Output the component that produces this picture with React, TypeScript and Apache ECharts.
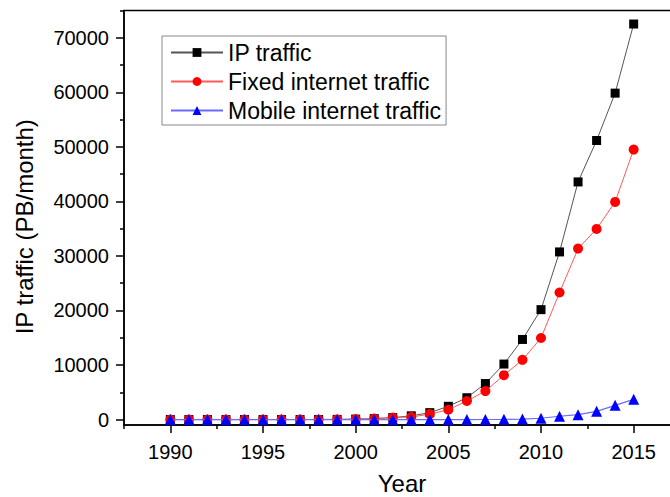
import React, { useEffect, useRef } from "react";
import * as echarts from "echarts";

const years = [1990, 1991, 1992, 1993, 1994, 1995, 1996, 1997, 1998, 1999, 2000, 2001, 2002, 2003, 2004, 2005, 2006, 2007, 2008, 2009, 2010, 2011, 2012, 2013, 2014, 2015];
const ipTraffic = [0.001, 0.002, 0.004, 0.01, 0.02, 0.17, 1.8, 5.4, 11.5, 26, 75, 175, 356, 681, 1267, 2426, 4000, 6600, 10174, 14686, 20151, 30734, 43570, 51168, 59848, 72521];
const fixedTraffic = [0.001, 0.002, 0.004, 0.01, 0.02, 0.17, 1.8, 5.4, 11.5, 26, 75, 175, 356, 470, 1000, 1800, 3400, 5219, 8140, 10942, 14955, 23288, 31339, 34952, 39909, 49494];
const mobileTraffic = [0, 0, 0, 0, 0, 0, 0, 0, 0, 0, 0, 0, 0.1, 0.5, 1, 1, 3, 10, 33, 91, 237, 600, 900, 1500, 2600, 3700];

const seriesNames = ["IP traffic", "Fixed internet traffic", "Mobile internet traffic"];
const xMajorTicks = [1990, 1995, 2000, 2005, 2010, 2015];
const xMinorTicks = [1987.5, 1992.5, 1997.5, 2002.5, 2007.5, 2012.5, 2017.5];
const yMajorTicks = [0, 10000, 20000, 30000, 40000, 50000, 60000, 70000];
const yMinorTicks = [5000, 15000, 25000, 35000, 45000, 55000, 65000, 75000];

const FONT = "'Liberation Sans', Arial, sans-serif";

export default function App() {
  const ref = useRef<HTMLDivElement>(null);
  useEffect(() => {
    if (!ref.current) return;
    const chart = echarts.init(ref.current, null, { renderer: "svg" });
    const pair = (arr: number[]) => years.map((y, i) => [y, arr[i]]);
    const plain = (v: number) => String(v);
    const xBase = { type: "value", min: 1987.5, max: 2017.5, position: "bottom", splitLine: { show: false } };
    const yBase = { type: "value", min: -1000, max: 75000, position: "left", splitLine: { show: false } };
    chart.setOption({
      animation: false,
      backgroundColor: "#fff",
      textStyle: { fontFamily: FONT },
      grid: {
        left: 124, top: 10.5, right: 0, bottom: 72,
        containLabel: false, outerBoundsMode: "none",
        show: true, borderColor: "#000", borderWidth: 1.5, backgroundColor: "transparent",
      },
      legend: {
        orient: "vertical",
        left: 162,
        top: 36,
        itemWidth: 52,
        itemHeight: 11,
        itemGap: 6,
        padding: [5, 5, 3, 8],
        borderColor: "#888",
        borderWidth: 1,
        textStyle: { fontSize: 23, color: "#000", fontFamily: FONT },
        data: seriesNames,
      },
      xAxis: [
        {
          ...xBase,
          axisLine: { show: true, onZero: false, lineStyle: { color: "#000", width: 1.5 } },
          axisTick: { show: true, customValues: xMajorTicks, length: 8, lineStyle: { color: "#000", width: 1.5 } },
          axisLabel: { customValues: xMajorTicks, formatter: plain, margin: 17, fontSize: 20, color: "#000", fontFamily: FONT },
          name: "Year",
          nameLocation: "middle",
          nameGap: 46,
          nameTextStyle: { fontSize: 24, color: "#000", fontFamily: FONT },
        },
        {
          ...xBase,
          axisLine: { show: false, onZero: false },
          axisTick: { show: true, customValues: xMinorTicks, length: 4, lineStyle: { color: "#000", width: 1.5 } },
          axisLabel: { show: false },
        },
      ],
      yAxis: [
        {
          ...yBase,
          axisLine: { show: true, onZero: false, lineStyle: { color: "#000", width: 1.5 } },
          axisTick: { show: true, customValues: yMajorTicks, length: 8, lineStyle: { color: "#000", width: 1.5 } },
          axisLabel: { customValues: yMajorTicks, formatter: plain, margin: 15, fontSize: 20, color: "#000", fontFamily: FONT },
          name: "IP traffic (PB/month)",
          nameLocation: "middle",
          nameGap: 88,
          nameTextStyle: { fontSize: 24, color: "#000", fontFamily: FONT, padding: [0, 18, 0, 0] },
        },
        {
          ...yBase,
          axisLine: { show: false, onZero: false },
          axisTick: { show: true, customValues: yMinorTicks, length: 4, lineStyle: { color: "#000", width: 1.5 } },
          axisLabel: { show: false },
        },
      ],
      series: [
        {
          name: seriesNames[0],
          type: "line",
          data: pair(ipTraffic),
          symbol: "rect",
          symbolSize: 9,
          itemStyle: { color: "#000" },
          lineStyle: { color: "#555", width: 1 },
          z: 2,
        },
        {
          name: seriesNames[1],
          type: "line",
          data: pair(fixedTraffic),
          symbol: "circle",
          symbolSize: 10,
          itemStyle: { color: "#f00" },
          lineStyle: { color: "#ff5a5a", width: 1 },
          z: 3,
        },
        {
          name: seriesNames[2],
          type: "line",
          data: pair(mobileTraffic),
          symbol: "triangle",
          symbolSize: 11,
          itemStyle: { color: "#00f" },
          lineStyle: { color: "#6a6aff", width: 1.2 },
          z: 4,
        },
      ],
    });
    return () => chart.dispose();
  }, []);
  return (
    <div style={{ position: "fixed", left: 0, top: 0, width: 670, height: 497, overflow: "hidden" }}>
      <div ref={ref} style={{ width: 680, height: 497 }} />
    </div>
  );
}
